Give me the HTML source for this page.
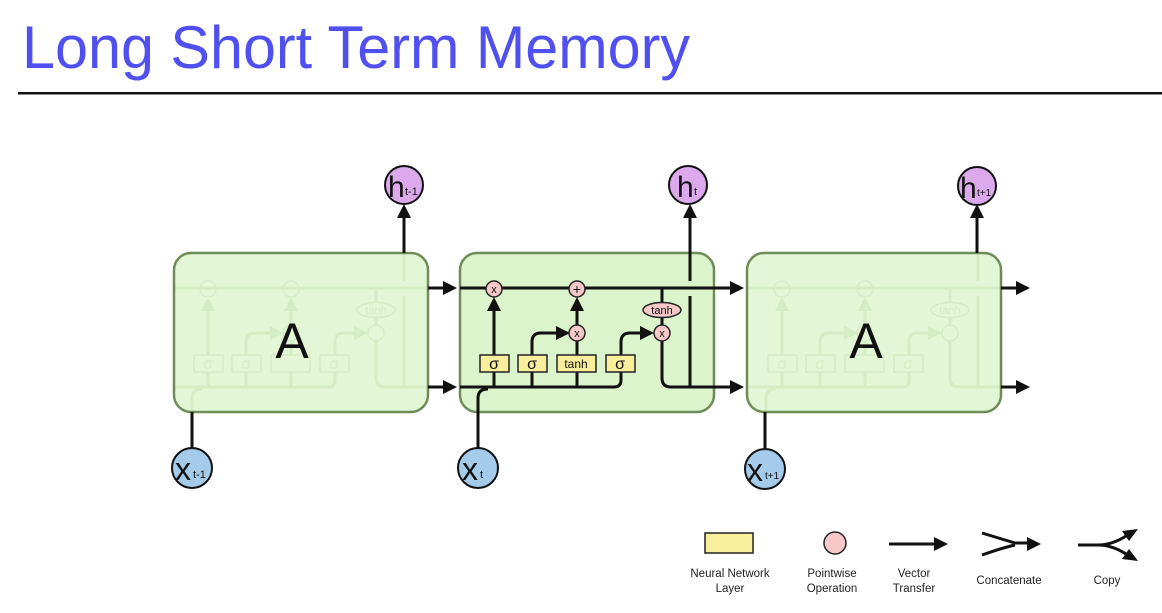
<!DOCTYPE html>
<html><head><meta charset="utf-8"><style>
html,body{margin:0;padding:0;background:#fff;width:1162px;height:613px;overflow:hidden}
svg{display:block}
text{font-family:"Liberation Sans","DejaVu Sans",sans-serif}
</style></head><body>
<svg width="1162" height="613" viewBox="0 0 1162 613" xmlns="http://www.w3.org/2000/svg">
<text x="22" y="68" font-size="60" fill="#5050f0" textLength="668" lengthAdjust="spacingAndGlyphs">Long Short Term Memory</text>
<rect x="18" y="92" width="1144" height="2.5" fill="#111"/>

<!-- left cell internals (faded) -->
<g transform="translate(-286,0)">
<g fill="none" stroke="#b6d0a4" stroke-width="3">
<path d="M460 288 H714"/>
<path d="M460 387 H614 Q621 387 621 380 V372"/>
<path d="M494 387 V372 M494 355 V310"/>
<path d="M532 387 V372 M532 355 V342 Q532 333 541 333 H557"/>
<path d="M577 387 V372 M577 355 V341 M577 325 V310"/>
<path d="M621 355 V342 Q621 333 630 333 H641"/>
<path d="M662 288 V303 M662 317 V325"/>
<path d="M662 341 V378 Q662 387 671 387 H714"/>
<path d="M690 387 V296 M690 281 V253"/>
<path d="M478 412 V398 Q478 389 488 389"/>
</g>
<g fill="#b6d0a4"><polygon points="494,297 487,311 501,311"/><polygon points="577,297 570,311 584,311"/><polygon points="570,333 556,326 556,340"/><polygon points="654,333 640,326 640,340"/></g>
<g fill="none" stroke="#b6d0a4" stroke-width="1.5">
<circle cx="494" cy="289" r="8"/><circle cx="577" cy="289" r="8"/><circle cx="577" cy="333" r="8"/><circle cx="662" cy="333" r="8"/><ellipse cx="662" cy="310" rx="19" ry="7.5"/>
<rect x="480" y="355" width="29" height="17"/><rect x="518" y="355" width="29" height="17"/><rect x="557" y="355" width="39" height="17"/><rect x="606" y="355" width="29" height="17"/>
</g>
<g fill="#b6d0a4" text-anchor="middle">
<text x="662" y="314" font-size="11">tanh</text>
<text x="494" y="369" font-size="16">σ</text><text x="532" y="369" font-size="16">σ</text><text x="620" y="369" font-size="16">σ</text>
</g>
</g>
<rect x="174" y="253" width="254" height="159" rx="17" fill="#dcf4cc" fill-opacity="0.8" stroke="#6e8c58" stroke-width="2.5"/>
<text x="292" y="358" font-size="50" text-anchor="middle" fill="#111">A</text>

<!-- right cell internals (faded) -->
<g transform="translate(288,0)">
<g fill="none" stroke="#b6d0a4" stroke-width="3">
<path d="M460 288 H714"/>
<path d="M460 387 H614 Q621 387 621 380 V372"/>
<path d="M494 387 V372 M494 355 V310"/>
<path d="M532 387 V372 M532 355 V342 Q532 333 541 333 H557"/>
<path d="M577 387 V372 M577 355 V341 M577 325 V310"/>
<path d="M621 355 V342 Q621 333 630 333 H641"/>
<path d="M662 288 V303 M662 317 V325"/>
<path d="M662 341 V378 Q662 387 671 387 H714"/>
<path d="M690 387 V296 M690 281 V253"/>
<path d="M478 412 V398 Q478 389 488 389"/>
</g>
<g fill="#b6d0a4"><polygon points="494,297 487,311 501,311"/><polygon points="577,297 570,311 584,311"/><polygon points="570,333 556,326 556,340"/><polygon points="654,333 640,326 640,340"/></g>
<g fill="none" stroke="#b6d0a4" stroke-width="1.5">
<circle cx="494" cy="289" r="8"/><circle cx="577" cy="289" r="8"/><circle cx="577" cy="333" r="8"/><circle cx="662" cy="333" r="8"/><ellipse cx="662" cy="310" rx="19" ry="7.5"/>
<rect x="480" y="355" width="29" height="17"/><rect x="518" y="355" width="29" height="17"/><rect x="557" y="355" width="39" height="17"/><rect x="606" y="355" width="29" height="17"/>
</g>
<g fill="#b6d0a4" text-anchor="middle">
<text x="662" y="314" font-size="11">tanh</text>
<text x="494" y="369" font-size="16">σ</text><text x="532" y="369" font-size="16">σ</text><text x="620" y="369" font-size="16">σ</text>
</g>
</g>
<rect x="747" y="253" width="254" height="159" rx="17" fill="#dcf4cc" fill-opacity="0.8" stroke="#6e8c58" stroke-width="2.5"/>
<text x="866" y="358" font-size="50" text-anchor="middle" fill="#111">A</text>

<!-- middle cell -->
<rect x="460" y="253" width="254" height="159" rx="17" fill="#dcf4cc" stroke="#6e8c58" stroke-width="2.5"/>
<g fill="none" stroke="#111" stroke-width="3">
<path d="M460 288 H732"/>
<path d="M460 387 H614 Q621 387 621 380 V372"/>
<path d="M494 387 V372 M494 355 V310"/>
<path d="M532 387 V372 M532 355 V342 Q532 333 541 333 H557"/>
<path d="M577 387 V372 M577 355 V341 M577 325 V310"/>
<path d="M621 355 V342 Q621 333 630 333 H641"/>
<path d="M662 288 V303 M662 317 V325"/>
<path d="M662 341 V378 Q662 387 671 387 H732"/>
<path d="M690 387 V296 M690 281 V216"/>
<path d="M478 448 V398 Q478 389 488 389"/>
<path d="M428 288 H445 M428 387 H445"/>
<path d="M1001 288 H1018 M1001 387 H1018"/>
<path d="M404 253 V216 M977 253 V216"/>
<path d="M192 448 V412 M765 448 V412"/>
</g>
<g fill="#111">
<polygon points="494,297 487,311 501,311"/><polygon points="577,297 570,311 584,311"/>
<polygon points="570,333 556,326 556,340"/><polygon points="654,333 640,326 640,340"/>
<polygon points="744,288 730,281 730,295"/><polygon points="744,387 730,380 730,394"/>
<polygon points="457,288 443,281 443,295"/><polygon points="457,387 443,380 443,394"/>
<polygon points="1030,288 1016,281 1016,295"/><polygon points="1030,387 1016,380 1016,394"/>
<polygon points="404,204 397,218 411,218"/><polygon points="690,204 683,218 697,218"/><polygon points="977,204 970,218 984,218"/>
</g>
<g stroke="#222" stroke-width="1.5">
<g fill="#f7c8c8">
<circle cx="494" cy="289" r="8"/><circle cx="577" cy="289" r="8"/><circle cx="577" cy="333" r="8"/><circle cx="662" cy="333" r="8"/><ellipse cx="662" cy="310" rx="19" ry="7.5"/>
</g>
<g fill="#f8ee9c">
<rect x="480" y="355" width="29" height="17"/><rect x="518" y="355" width="29" height="17"/><rect x="557" y="355" width="39" height="17"/><rect x="606" y="355" width="29" height="17"/>
</g>
</g>
<g fill="#111" text-anchor="middle">
<text x="494" y="293" font-size="11">x</text><text x="577" y="294" font-size="14">+</text>
<text x="577" y="337" font-size="11">x</text><text x="662" y="337" font-size="11">x</text>
<text x="662" y="314" font-size="11">tanh</text>
<text x="494" y="369" font-size="16">σ</text><text x="532" y="369" font-size="16">σ</text>
<text x="576" y="368" font-size="12">tanh</text><text x="620" y="369" font-size="16">σ</text>
</g>

<!-- h circles -->
<g stroke="#111" stroke-width="2" fill="#dcaaec">
<circle cx="404" cy="185" r="19"/><circle cx="688" cy="185" r="19"/><circle cx="977" cy="186" r="19"/>
</g>
<g fill="#111">
<text x="388" y="197" font-size="30">h</text><text x="405" y="195" font-size="11">t-1</text>
<text x="677" y="197" font-size="30">h</text><text x="694" y="195" font-size="11">t</text>
<text x="960" y="198" font-size="30">h</text><text x="977" y="196" font-size="10">t+1</text>
</g>
<!-- x circles -->
<g stroke="#111" stroke-width="2" fill="#a4cbea">
<circle cx="192" cy="468" r="20"/><circle cx="478" cy="468" r="20"/><circle cx="765" cy="469" r="20"/>
</g>
<g fill="#111">
<text x="175" y="480" font-size="32">x</text><text x="193" y="478" font-size="11">t-1</text>
<text x="462" y="480" font-size="32">x</text><text x="480" y="478" font-size="11">t</text>
<text x="747" y="481" font-size="32">x</text><text x="765" y="479" font-size="10">t+1</text>
</g>

<!-- legend -->
<rect x="705" y="533" width="48" height="20" fill="#f8ee9c" stroke="#222" stroke-width="1.5"/>
<circle cx="835" cy="543" r="11" fill="#f7c8c8" stroke="#222" stroke-width="1.5"/>
<g fill="none" stroke="#111" stroke-width="3">
<path d="M889 544 H935"/>
<path d="M982 533 Q1005 540 1015 543 H1028 M982 555 Q1005 547 1015 545"/>
<path d="M1078 545 H1098 Q1112 545 1126 536 M1098 545 Q1112 545 1126 554"/>
</g>
<g fill="#111">
<polygon points="948,544 934,537 934,551"/>
<polygon points="1041,544 1027,537 1027,551"/>
<polygon points="1138,529 1122,531 1129,541"/>
<polygon points="1138,561 1122,559 1129,549"/>
</g>
<g fill="#222" font-size="11.5" text-anchor="middle">
<text x="730" y="577">Neural Network</text><text x="730" y="592">Layer</text>
<text x="832" y="577">Pointwise</text><text x="832" y="592">Operation</text>
<text x="914" y="577">Vector</text><text x="914" y="592">Transfer</text>
<text x="1009" y="584">Concatenate</text>
<text x="1107" y="584">Copy</text>
</g>
</svg>
</body></html>
